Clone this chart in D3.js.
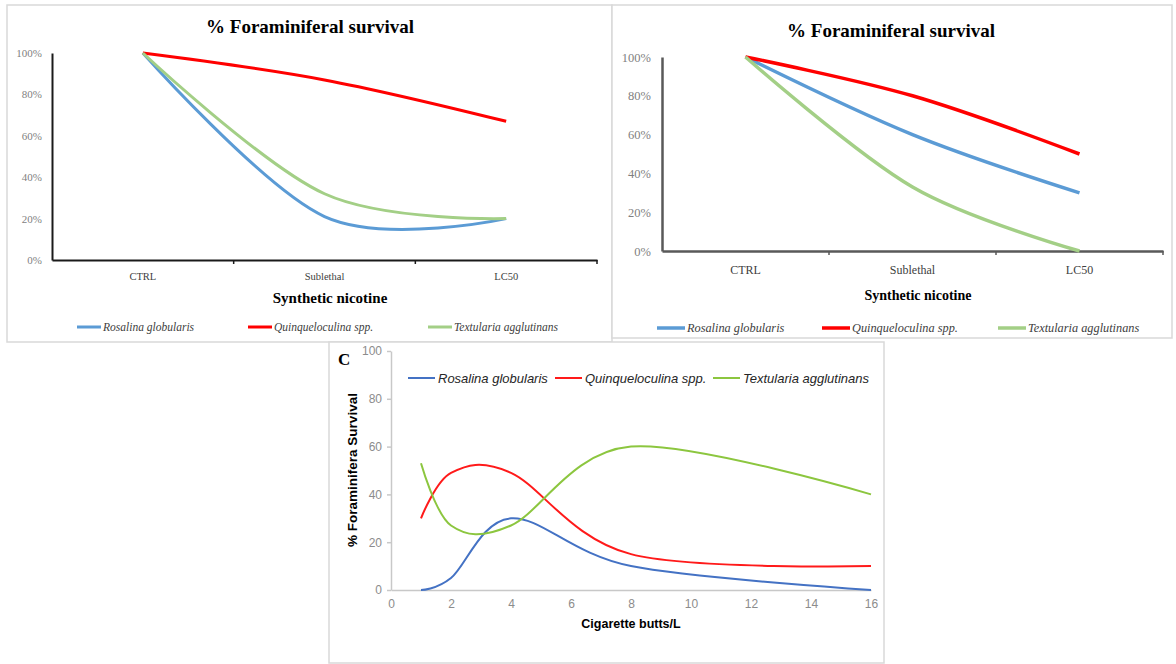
<!DOCTYPE html>
<html>
<head>
<meta charset="utf-8">
<script src="https://cdn.jsdelivr.net/npm/d3@7"></script>
<style>
  body { margin: 0; background: #fff; }
  svg { display: block; }
</style>
</head>
<body>
<div id="chart"></div>
<script>
// --- data ---
const categories = ["CTRL", "Sublethal", "LC50"];
const species = ["Rosalina globularis", "Quinqueloculina spp.", "Textularia agglutinans"];
const pctTicks = [0, 20, 40, 60, 80, 100];

// panel A (left, synthetic nicotine)
const aRosalina = [100, 21, 20];
const aQuinque = [100, 87, 67];
const aTextularia = [100, 32, 20];

// panel B (right, synthetic nicotine)
const bRosalina = [100, 60, 30];
const bQuinque = [100, 80, 50];
const bTextularia = [100, 33, 0];

// panel C (cigarette butts)
const butts = [1, 2, 4, 8, 16];
const cRosalina = [0, 5, 30, 10, 0];
const cQuinque = [30, 49, 49, 15, 10];
const cTextularia = [53, 27, 27, 60, 40];
const buttTicks = [0, 2, 4, 6, 8, 10, 12, 14, 16];

const serif = "'Liberation Serif', 'Times New Roman', serif";
const sans = "'Liberation Sans', Arial, sans-serif";

const svg = d3.select("#chart").append("svg")
  .attr("width", 1176).attr("height", 664);

// panel frames
function frame(x0, y0, x1, y1) {
  svg.append("rect")
    .attr("x", x0).attr("y", y0)
    .attr("width", x1 - x0).attr("height", y1 - y0)
    .attr("fill", "#fff").attr("stroke", "#d9d9d9").attr("stroke-width", 1.5);
}
frame(7, 5, 612, 342);
frame(612, 5, 1172, 338);
frame(329, 342, 884, 663);

// top panels share the same layout, just different sizes
function nicotinePanel(o) {
  const g = svg.append("g");
  const x = d3.scaleBand().domain(categories).range([o.left, o.right]);
  const y = d3.scaleLinear().domain([0, 100]).range([o.bottom, o.top]);

  g.append("text")
    .attr("x", o.titleX).attr("y", o.titleY)
    .attr("text-anchor", "middle")
    .style("font", `bold ${o.titleSize}px ${serif}`)
    .text("% Foraminiferal  survival");

  // y axis
  const yAxis = g.append("g")
    .attr("transform", `translate(${o.left},0)`)
    .call(d3.axisLeft(y).tickValues(pctTicks).tickSize(0).tickSizeOuter(0)
      .tickPadding(o.yPad).tickFormat(d => d + "%"));
  yAxis.select(".domain").attr("stroke", o.axisColor).attr("stroke-width", o.axisWidth);
  yAxis.selectAll("text")
    .style("font", `${o.tickSize}px ${serif}`).attr("fill", "#7f7f7f");

  // x axis, ticks between categories
  const xAxis = g.append("g")
    .attr("transform", `translate(0,${o.bottom})`)
    .call(d3.axisBottom(x).tickSize(0).tickSizeOuter(0).tickPadding(o.xPad));
  xAxis.select(".domain").attr("stroke", o.axisColor).attr("stroke-width", o.axisWidth);
  xAxis.selectAll("text")
    .style("font", `${o.catSize}px ${serif}`).attr("fill", "#404040");
  const edges = categories.map(c => x(c)).concat([o.right]);
  g.selectAll(".edge").data(edges.slice(1)).enter().append("line")
    .attr("x1", d => d).attr("x2", d => d)
    .attr("y1", o.bottom).attr("y2", o.bottom + 4)
    .attr("stroke", o.axisColor).attr("stroke-width", 1.5);

  g.append("text")
    .attr("x", o.xTitleX).attr("y", o.xTitleY)
    .attr("text-anchor", "middle")
    .style("font", `bold ${o.xTitleSize}px ${serif}`)
    .text("Synthetic nicotine");

  const line = d3.line()
    .x((d, i) => x(categories[i]) + x.bandwidth() / 2)
    .y(d => y(d))
    .curve(d3.curveCardinal.tension(0));

  o.series.forEach((s, i) => {
    g.append("path")
      .attr("d", line(s))
      .attr("fill", "none")
      .attr("stroke", o.colors[i])
      .attr("stroke-width", o.lineWidth);
  });

  // legend
  o.legendX.forEach((lx, i) => {
    g.append("line")
      .attr("x1", lx).attr("x2", lx + o.swatch)
      .attr("y1", o.legendY).attr("y2", o.legendY)
      .attr("stroke", o.colors[i]).attr("stroke-width", o.lineWidth);
    g.append("text")
      .attr("x", lx + o.swatch + 2).attr("y", o.legendY)
      .attr("dy", "0.35em")
      .style("font", `italic ${o.legendSize}px ${serif}`)
      .attr("fill", "#404040")
      .text(species[i]);
  });
}

const topColors = ["#5b9bd5", "#ff0000", "#a3cf86"];

nicotinePanel({
  left: 52, right: 597, top: 53, bottom: 260,
  titleX: 310, titleY: 33, titleSize: 19,
  yPad: 10, tickSize: 11, xPad: 13, catSize: 10.5,
  axisColor: "#1a1a1a", axisWidth: 2,
  xTitleX: 330, xTitleY: 303, xTitleSize: 15,
  series: [aRosalina, aQuinque, aTextularia],
  colors: topColors, lineWidth: 3,
  legendX: [77, 248, 428], legendY: 327, swatch: 24, legendSize: 11.5
});

nicotinePanel({
  left: 662, right: 1163, top: 57, bottom: 251,
  titleX: 891, titleY: 37, titleSize: 19,
  yPad: 11, tickSize: 12.5, xPad: 14, catSize: 12,
  axisColor: "#595959", axisWidth: 2.5,
  xTitleX: 918, xTitleY: 300, xTitleSize: 14,
  series: [bRosalina, bQuinque, bTextularia],
  colors: topColors, lineWidth: 3.5,
  legendX: [657, 822, 998], legendY: 328, swatch: 28, legendSize: 12.3
});

// panel C
{
  const g = svg.append("g");
  const x = d3.scaleLinear().domain([0, 16]).range([391, 871]);
  const y = d3.scaleLinear().domain([0, 100]).range([590, 351]);
  const colors = ["#4472c4", "#ff1a1a", "#8cc63f"];

  g.append("text")
    .attr("x", 338).attr("y", 365)
    .style("font", `bold 17px ${serif}`)
    .text("C");

  const yAxis = g.append("g")
    .attr("transform", "translate(391,0)")
    .call(d3.axisLeft(y).tickValues(pctTicks).tickSize(4).tickSizeOuter(0).tickPadding(5));
  yAxis.selectAll(".domain, line").attr("stroke", "#c8c8c8").attr("stroke-width", 1.5);
  yAxis.selectAll("text").style("font", `12px ${sans}`).attr("fill", "#8c8c8c");

  const xAxis = g.append("g")
    .attr("transform", "translate(0,590)")
    .call(d3.axisBottom(x).tickValues(buttTicks).tickSize(0).tickSizeOuter(0).tickPadding(9));
  xAxis.select(".domain").attr("stroke", "#c8c8c8").attr("stroke-width", 1.5);
  xAxis.selectAll("text").style("font", `12px ${sans}`).attr("fill", "#8c8c8c");

  g.append("text")
    .attr("x", 631).attr("y", 628)
    .attr("text-anchor", "middle")
    .style("font", `bold 12.5px ${sans}`)
    .text("Cigarette butts/L");

  g.append("text")
    .attr("transform", "translate(357,470) rotate(-90)")
    .attr("text-anchor", "middle")
    .style("font", `bold 13.5px ${sans}`)
    .text("% Foraminifera Survival");

  const line = d3.line()
    .x((d, i) => x(butts[i]))
    .y(d => y(d))
    .curve(d3.curveCardinal.tension(0));

  [cRosalina, cQuinque, cTextularia].forEach((s, i) => {
    g.append("path")
      .attr("d", line(s))
      .attr("fill", "none")
      .attr("stroke", colors[i])
      .attr("stroke-width", 2);
  });

  [408, 555, 713].forEach((lx, i) => {
    g.append("line")
      .attr("x1", lx).attr("x2", lx + 27)
      .attr("y1", 378).attr("y2", 378)
      .attr("stroke", colors[i]).attr("stroke-width", 2);
    g.append("text")
      .attr("x", lx + 30).attr("y", 378)
      .attr("dy", "0.35em")
      .style("font", `italic 13px ${sans}`)
      .attr("fill", "#262626")
      .text(species[i]);
  });
}
</script>
</body>
</html>
